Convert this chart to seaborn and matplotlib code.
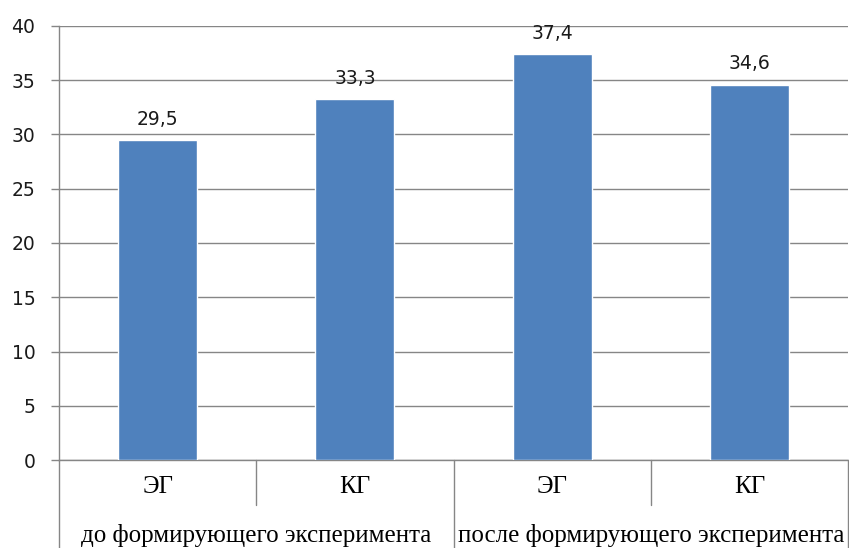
import matplotlib
matplotlib.use('Agg')
import matplotlib.pyplot as plt
import pandas as pd
import seaborn as sns

# data
groups = ['до формирующего эксперимента', 'после формирующего эксперимента']
subgroups = ['ЭГ', 'КГ', 'ЭГ', 'КГ']
values = [29.5, 33.3, 37.4, 34.6]

df = pd.DataFrame({
    'key': [f'{i}_{s}' for i, s in enumerate(subgroups)],
    'sub': subgroups,
    'value': values,
})

sns.set_style('white')
plt.rcParams['font.family'] = ['DejaVu Sans']

fig = plt.figure(figsize=(8.49, 5.48), dpi=100)
ax = fig.add_axes([59 / 849, 1 - 460 / 548, (848 - 59) / 849, 434 / 548])

sns.barplot(data=df, x='key', y='value', color='#4F81BD', width=0.4,
            saturation=1, ax=ax, zorder=3)

ax.set_xlim(-0.5, 3.5)
ax.set_ylim(0, 40)
ax.set_yticks(range(0, 41, 5))
ax.set_xticks([])
ax.set_xlabel('')
ax.set_ylabel('')
ax.grid(axis='y', color='#868686', linewidth=1, zorder=0)
ax.tick_params(axis='y', length=6, width=1, color='#868686', pad=11,
               labelsize=13.5, labelcolor='#1a1a1a', left=True)
for side in ['top', 'right']:
    ax.spines[side].set_visible(False)
for side in ['left', 'bottom']:
    ax.spines[side].set_color('#868686')
    ax.spines[side].set_linewidth(1)

# value labels
ax.bar_label(ax.containers[0], labels=[str(v).replace('.', ',') for v in values],
             padding=8, fontsize=13.5, color='#1a1a1a')

# multi-level category axis
trans = ax.get_xaxis_transform()
seps = [(-0.5, -0.203), (0.5, -0.104), (1.5, -0.203), (2.5, -0.104), (3.5, -0.203)]
for x, y in seps:
    ax.plot([x, x], [0, y], transform=trans, color='#868686', lw=1,
            clip_on=False, zorder=1)

serif = ['Liberation Serif', 'DejaVu Serif']
for i, s in enumerate(subgroups):
    ax.text(i, -0.062, s, transform=trans, ha='center', va='center',
            fontsize=18, family=serif, color='#000000')
for j, g in enumerate(groups):
    ax.text(2 * j + 0.5, -0.175, g, transform=trans, ha='center', va='center',
            fontsize=18, family=serif, color='#000000')

fig.savefig('out.png', dpi=100)
